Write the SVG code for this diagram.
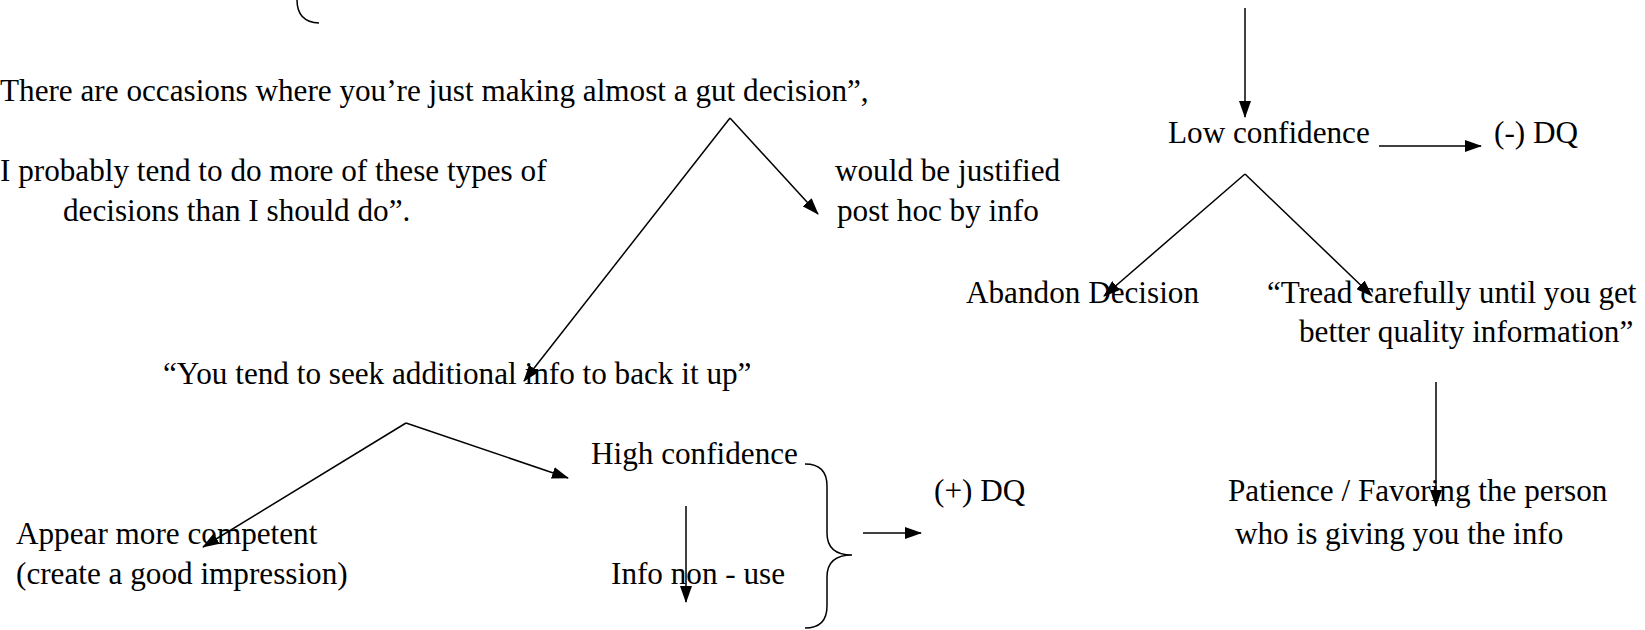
<svg xmlns="http://www.w3.org/2000/svg" width="1645" height="630" viewBox="0 0 1645 630">
<style>
text{font-family:"Liberation Serif","Times New Roman",serif;font-size:31.2px;fill:#000}
.c{stroke:#000;stroke-width:1.5;fill:none}
</style>
<defs>
<marker id="ah" markerWidth="17" markerHeight="12" refX="16" refY="6" orient="auto" markerUnits="userSpaceOnUse">
<path d="M0,0 L17,6 L0,12 Z" fill="#000"/>
</marker>
</defs>
<rect width="1645" height="630" fill="#fff"/>
<g id="connectors">
<path class="c" d="M297,0 Q297,22 319,23"/>
<line class="c" x1="1245" y1="8" x2="1245" y2="117" marker-end="url(#ah)"/>
<line class="c" x1="1379" y1="146" x2="1481" y2="146" marker-end="url(#ah)"/>
<line class="c" x1="1245" y1="174" x2="1104" y2="296" marker-end="url(#ah)"/>
<line class="c" x1="1245" y1="174" x2="1372" y2="296" marker-end="url(#ah)"/>
<line class="c" x1="730" y1="118" x2="818" y2="214" marker-end="url(#ah)"/>
<line class="c" x1="730" y1="118" x2="524" y2="381" marker-end="url(#ah)"/>
<line class="c" x1="406" y1="423" x2="203" y2="547" marker-end="url(#ah)"/>
<line class="c" x1="406" y1="423" x2="568" y2="478" marker-end="url(#ah)"/>
<line class="c" x1="686" y1="506" x2="686" y2="602" marker-end="url(#ah)"/>
<path class="c" d="M805,464 Q827,464 827,486 L827,533 Q827,555 852,555 Q827,555 827,577 L827,606 Q827,628 805,628"/>
<line class="c" x1="863" y1="533" x2="921" y2="533" marker-end="url(#ah)"/>
<line class="c" x1="1436" y1="382" x2="1436" y2="506" marker-end="url(#ah)"/>
</g>
<g id="n-gut"><text x="0" y="101">There are occasions where you’re just making almost a gut decision”,</text></g>
<g id="n-probably"><text x="0" y="181">I probably tend to do more of these types of</text><text x="63" y="221">decisions than I should do”.</text></g>
<g id="n-justified"><text x="835" y="181">would be justified</text><text x="837" y="221">post hoc by info</text></g>
<g id="n-low"><text x="1168" y="143">Low confidence</text></g>
<g id="n-negdq"><text x="1494" y="143">(-) DQ</text></g>
<g id="n-abandon"><text x="966" y="303">Abandon Decision</text></g>
<g id="n-tread"><text x="1267" y="303">“Tread carefully until you get</text><text x="1299" y="342">better quality information”</text></g>
<g id="n-seek"><text x="163" y="384">“You tend to seek additional info to back it up”</text></g>
<g id="n-high"><text x="591" y="464">High confidence</text></g>
<g id="n-posdq"><text x="934" y="501">(+) DQ</text></g>
<g id="n-patience"><text x="1228" y="501">Patience / Favoring the person</text><text x="1235" y="544">who is giving you the info</text></g>
<g id="n-appear"><text x="16" y="544">Appear more competent</text><text x="16" y="584">(create a good impression)</text></g>
<g id="n-nonuse"><text x="611" y="584">Info non - use</text></g>
</svg>
